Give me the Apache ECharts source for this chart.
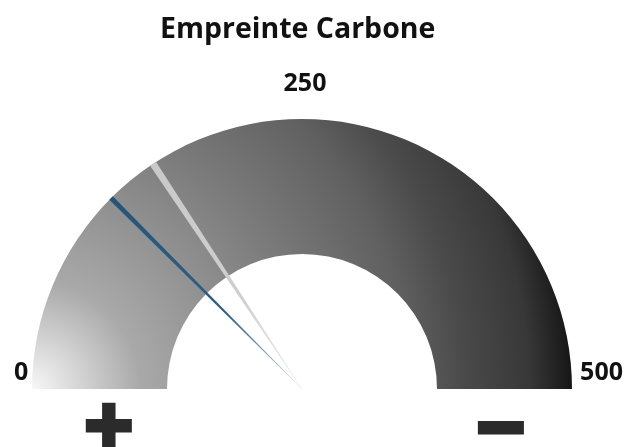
<!DOCTYPE html>
<html>
<head>
<meta charset="utf-8">
<script src="https://cdn.jsdelivr.net/npm/echarts@6/dist/echarts.min.js"></script>
<style>html,body{margin:0;padding:0;background:#fff}#c{width:626px;height:447px}</style>
</head>
<body>
<div id="c"></div>
<script>
const titleText = 'Empreinte Carbone';
const axisMin = 0;
const axisMax = 500;
const tickLabels = [0, 250, 500];
const needleNames = ['Valeur', 'Objectif'];
const needleValues = [125, 157];
const endSymbols = ['+', '−'];

const chart = echarts.init(document.getElementById('c'), null, {renderer: 'canvas'});
const FONT = '"Open Sans", "Noto Sans", sans-serif';
const CX = 302, CY = 389, R = 270;

const arcGradient = {
  type: 'radial', x: 0, y: 1, r: 2, global: false,
  colorStops: [
    {offset: 0, color: '#f7f7f7'},
    {offset: 0.2, color: '#a9a9a9'},
    {offset: 0.5, color: '#7c7c7c'},
    {offset: 0.7, color: '#606060'},
    {offset: 0.8, color: '#4a4a4a'},
    {offset: 0.92, color: '#383838'},
    {offset: 1, color: '#161616'}
  ]
};

function needleSeries(idx, width, colorStops, showAxis) {
  return {
    type: 'gauge',
    name: needleNames[idx],
    center: [CX, CY],
    radius: R,
    startAngle: 180,
    endAngle: 0,
    min: axisMin,
    max: axisMax,
    splitNumber: tickLabels.length - 1,
    z: showAxis ? 2 : 3,
    axisLine: {show: showAxis, lineStyle: {width: R / 2, color: [[1, arcGradient]]}},
    splitLine: {show: false, length: 0, distance: 0},
    axisTick: {show: false},
    axisLabel: {
      show: showAxis,
      distance: -51,
      color: '#111',
      fontFamily: FONT,
      fontWeight: 'bold',
      fontSize: 25,
      formatter: function (v) {
        if (v === tickLabels[0]) return '{l|' + v + '}';
        if (v === tickLabels[2]) return '{r|' + v + '}';
        return '{t|' + v + '}';
      },
      rich: {
        l: {fontFamily: FONT, fontWeight: 'bold', fontSize: 25, color: '#111', padding: [0, 0, 32, 33]},
        r: {fontFamily: FONT, fontWeight: 'bold', fontSize: 25, color: '#111', padding: [0, 0, 32, 0]},
        t: {fontFamily: FONT, fontWeight: 'bold', fontSize: 25, color: '#111', padding: [3, 0, 0, 6]}
      }
    },
    pointer: {
      show: true,
      icon: 'path://M0,0 L10,0 L5.3,100 L4.7,100 Z',
      length: '100%',
      width: width,
      offsetCenter: [0, 0],
      keepAspect: false
    },
    itemStyle: {
      color: {type: 'linear', x: 0, y: 0, x2: 0, y2: 1, colorStops: colorStops}
    },
    anchor: {show: false},
    title: {show: false},
    detail: {show: false},
    data: [{value: needleValues[idx], name: needleNames[idx]}]
  };
}

const option = {
  animation: false,
  backgroundColor: '#fff',
  title: {
    text: titleText,
    left: 155,
    top: 10,
    textStyle: {fontFamily: FONT, fontWeight: 'bold', fontSize: 28.5, color: '#111'}
  },
  graphic: [
    {type: 'text', left: 79, top: 394, style: {text: endSymbols[0], font: 'bold 64px "DejaVu Sans"', fill: '#2b2b2b', stroke: '#2b2b2b', lineWidth: 6}},
    {type: 'text', left: 471, top: 396, style: {text: endSymbols[1], font: 'bold 64px "DejaVu Sans"', fill: '#2b2b2b', stroke: '#2b2b2b', lineWidth: 6}}
  ],
  series: [
    needleSeries(1, 7, [{offset: 0, color: '#c9c9c9'}, {offset: 0.6, color: '#cfcfcf'}, {offset: 1, color: '#f0f0f0'}], true),
    needleSeries(0, 5, [{offset: 0, color: '#245478'}, {offset: 0.6, color: '#2e5f86'}, {offset: 1, color: '#c5d5e5'}], false)
  ]
};
chart.setOption(option);
</script>
</body>
</html>
